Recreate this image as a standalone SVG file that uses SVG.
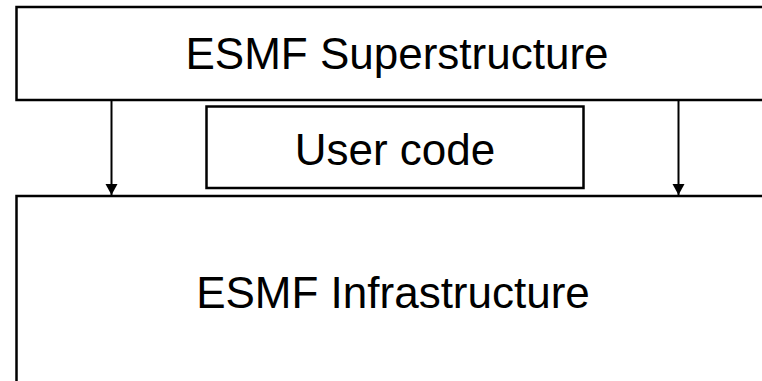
<svg xmlns="http://www.w3.org/2000/svg" width="762" height="381" viewBox="0 0 762 381">
<style>
.box{fill:#fff;stroke:#000;stroke-width:2.5}
.lbl{font-family:"Liberation Sans",Arial,sans-serif;font-size:44px;fill:#000;text-anchor:middle}
.conn{stroke:#000;stroke-width:2;fill:none}
</style>
<defs>
<marker id="ah" markerUnits="userSpaceOnUse" markerWidth="12" markerHeight="16" refX="11" refY="6" orient="auto">
<path d="M0,0 L11,6 L0,12 Z" fill="#000"/>
</marker>
</defs>
<rect width="762" height="381" fill="#fff"/>
<g id="superstructure">
<rect class="box" x="16.5" y="7" width="760" height="93"/>
<text class="lbl" x="397" y="69">ESMF Superstructure</text>
</g>
<g id="usercode">
<rect class="box" x="206.5" y="106.5" width="377" height="81.5"/>
<text class="lbl" x="395" y="165">User code</text>
</g>
<g id="infrastructure">
<rect class="box" x="16.5" y="196" width="760" height="200"/>
<text class="lbl" x="393" y="308">ESMF Infrastructure</text>
</g>
<g id="connectors">
<line class="conn" x1="111.5" y1="101" x2="111.5" y2="195" marker-end="url(#ah)"/>
<line class="conn" x1="678.5" y1="101" x2="678.5" y2="195" marker-end="url(#ah)"/>
</g>
</svg>
